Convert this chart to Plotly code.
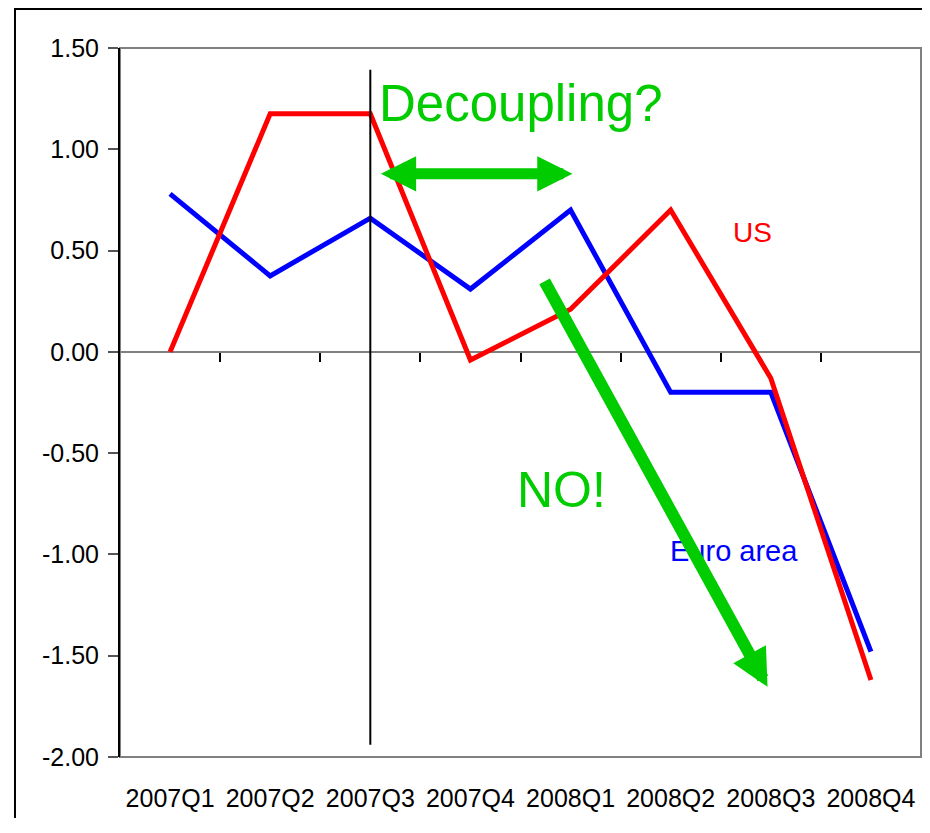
import plotly.graph_objects as go

categories = ["2007Q1", "2007Q2", "2007Q3", "2007Q4", "2008Q1", "2008Q2", "2008Q3", "2008Q4"]
us = [0.00, 1.175, 1.175, -0.04, 0.21, 0.70, -0.13, -1.62]
euro_area = [0.78, 0.375, 0.66, 0.31, 0.70, -0.20, -0.20, -1.48]
y_tick_values = [1.5, 1.0, 0.5, 0.0, -0.5, -1.0, -1.5, -2.0]
y_tick_labels = ["1.50", "1.00", "0.50", "0.00", "-0.50", "-1.00", "-1.50", "-2.00"]
marker_category = "2007Q3"

FONT = "Liberation Sans, Arial, sans-serif"
GREEN = "#00CC00"

xi = list(range(len(categories)))
marker_x = categories.index(marker_category)

fig = go.Figure()
fig.add_trace(go.Scatter(x=xi, y=euro_area, mode="lines", name="Euro area",
                         line=dict(color="#0000FF", width=5), showlegend=False))
fig.add_trace(go.Scatter(x=xi, y=us, mode="lines", name="US",
                         line=dict(color="#FF0000", width=5), showlegend=False))
# invisible trace to make the zero-line tick axis render
fig.add_trace(go.Scatter(x=xi, y=us, mode="lines", xaxis="x2", opacity=0,
                         line=dict(width=0), hoverinfo="skip", showlegend=False))

# reference pixel positions (screen) -> data
def px2x(px):
    return (px - 120) / 101.125 - 0.5

def px2y(py):
    return (352 - py) / 202.57

annotations = [
    dict(text="Decoupling?", x=px2x(380), y=px2y(104), xanchor="left", yanchor="middle",
         showarrow=False, font=dict(family=FONT, size=51, color=GREEN)),
    dict(text="NO!", x=px2x(566), y=px2y(490), xanchor="center", yanchor="middle",
         showarrow=False, font=dict(family=FONT, size=50, color=GREEN)),
    dict(text="US", x=px2x(759), y=px2y(233), xanchor="center", yanchor="middle",
         showarrow=False, font=dict(family=FONT, size=28, color="#FF0000")),
    dict(text="Euro area", x=px2x(740), y=px2y(551), xanchor="center", yanchor="middle",
         showarrow=False, font=dict(family=FONT, size=29, color="#0000FF")),
    dict(text="", x=px2x(577), y=px2y(174), ax=px2x(382), ay=px2y(174),
         xref="x", yref="y", axref="x", ayref="y", showarrow=True,
         arrowhead=2, startarrowhead=2, arrowside="end+start", arrowwidth=11,
         arrowsize=0.64, startarrowsize=0.64, arrowcolor=GREEN),
    dict(text="", x=px2x(774), y=px2y(687), ax=px2x(548), ay=px2y(280),
         xref="x", yref="y", axref="x", ayref="y", showarrow=True,
         arrowhead=2, arrowwidth=12, arrowsize=0.62, arrowcolor=GREEN),
]

shapes = [
    dict(type="rect", xref="paper", yref="paper", x0=0, x1=1, y0=0, y1=1,
         line=dict(color="#808080", width=2), layer="below"),
    dict(type="rect", xref="paper", yref="paper", x0=-0.1311, x1=1.3, y0=-0.3, y1=1.0550,
         line=dict(color="black", width=2), layer="below"),
    dict(type="line", xref="x", yref="y", x0=marker_x, x1=marker_x, y0=px2y(70), y1=px2y(745),
         line=dict(color="black", width=2), layer="above"),
]

fig.update_layout(
    width=914, height=810,
    margin=dict(l=112, r=1, t=40, b=61),
    paper_bgcolor="white", plot_bgcolor="white",
    font=dict(family=FONT, size=25, color="black"),
    showlegend=False,
    xaxis=dict(range=[-0.5, 7.5], tickvals=xi, ticktext=categories, showgrid=False,
               zeroline=False, showline=False, ticks="", ticklabelstandoff=24,
               tickfont=dict(family=FONT, size=25, color="black")),
    xaxis2=dict(range=[-0.5, 7.5], overlaying="x", anchor="free", position=2 / 3.5,
                side="bottom", tickvals=[i + 0.5 for i in xi[:-1]], showticklabels=False,
                ticks="outside", ticklen=9, tickwidth=2, tickcolor="black",
                showgrid=False, zeroline=False, showline=False),
    yaxis=dict(range=[-2.0, 1.5], tickvals=y_tick_values, ticktext=y_tick_labels,
               showgrid=False, zeroline=True, zerolinecolor="#808080", zerolinewidth=2,
               showline=True, linecolor="black", linewidth=2,
               ticks="outside", ticklen=10, tickwidth=2, tickcolor="#555555",
               ticklabelstandoff=4,
               tickfont=dict(family=FONT, size=25, color="black")),
    annotations=annotations,
    shapes=shapes,
)

fig.write_html("out.html")
